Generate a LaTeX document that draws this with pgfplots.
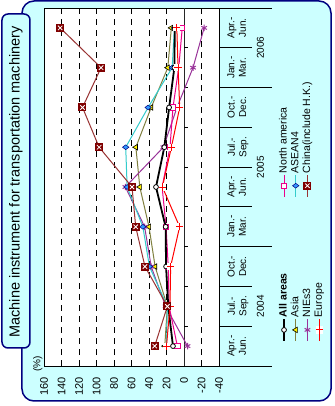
\documentclass[border=0pt]{standalone}
\usepackage{fontspec}
\setmainfont{Liberation Sans}
\usepackage{pgfplots}
\pgfplotsset{compat=1.18}
\definecolor{panel}{RGB}{204,255,255}
\definecolor{navy}{RGB}{0,0,128}
\definecolor{asiaL}{RGB}{128,128,64}
\definecolor{niesC}{RGB}{153,51,153}
\definecolor{aseanL}{RGB}{51,204,204}
\definecolor{aseanM}{RGB}{51,153,255}
\definecolor{chinaL}{RGB}{153,51,51}
\definecolor{chinaM}{RGB}{128,0,0}

\pgfdeclareplotmark{chinabox}{%
  \pgfpathrectangle{\pgfpoint{-\pgfplotmarksize}{-\pgfplotmarksize}}{\pgfpoint{2\pgfplotmarksize}{2\pgfplotmarksize}}%
  \pgfsetfillcolor{chinaM}\pgfusepathqfill
  \pgfsetstrokecolor{white}\pgfsetlinewidth{0.8pt}%
  \pgfpathmoveto{\pgfpoint{-0.55\pgfplotmarksize}{-0.55\pgfplotmarksize}}%
  \pgfpathlineto{\pgfpoint{0.55\pgfplotmarksize}{0.55\pgfplotmarksize}}%
  \pgfpathmoveto{\pgfpoint{-0.55\pgfplotmarksize}{0.55\pgfplotmarksize}}%
  \pgfpathlineto{\pgfpoint{0.55\pgfplotmarksize}{-0.55\pgfplotmarksize}}%
  \pgfusepathqstroke
}
\pgfdeclareplotmark{wplus}{%
  \pgfpathrectangle{\pgfpoint{-\pgfplotmarksize}{-\pgfplotmarksize}}{\pgfpoint{2\pgfplotmarksize}{2\pgfplotmarksize}}%
  \pgfsetfillcolor{white}\pgfusepathqfill
  \pgfsetstrokecolor{red}%
  \pgfpathmoveto{\pgfpoint{-\pgfplotmarksize}{0pt}}\pgfpathlineto{\pgfpoint{\pgfplotmarksize}{0pt}}%
  \pgfpathmoveto{\pgfpoint{0pt}{-\pgfplotmarksize}}\pgfpathlineto{\pgfpoint{0pt}{\pgfplotmarksize}}%
  \pgfusepathqstroke
}

\pgfplotsset{
 allS/.style={black, line width=1.8pt, mark=*, mark size=2.4pt, mark options={fill=white, draw=black, line width=0.8pt, solid}},
 asiaS/.style={color=asiaL, line width=1pt, mark=triangle*, mark size=3.2pt, mark options={fill=yellow, draw=black, line width=0.6pt}},
 niesS/.style={color=niesC, line width=1pt, mark=asterisk, mark size=3.2pt, mark options={rotate=90, line width=1pt}},
 euroS/.style={red, line width=1pt, mark=wplus, mark size=3.6pt, mark options={line width=1pt}},
 naS/.style={magenta, line width=1pt, mark=square*, mark size=2.6pt, mark options={fill=white, draw=magenta, line width=0.8pt}},
 aseanS/.style={color=aseanL, line width=1pt, mark=diamond*, mark size=3.2pt, mark options={fill=aseanM, draw=navy, line width=0.5pt}},
 chinaS/.style={color=chinaL, line width=1pt, mark=chinabox, mark size=4pt},
}

\begin{document}
\begin{tikzpicture}[rotate=90, transform shape]
\path[use as bounding box] (0,0) rectangle (406pt,334pt);
\draw[fill=panel, draw=navy, line width=1.5pt, rounded corners=12pt] (5pt,3pt) rectangle (405pt,312pt);
\draw[fill=panel, draw=navy, line width=1.5pt, rounded corners=6pt] (58pt,304pt) rectangle (392pt,332pt);
\node[font=\fontsize{14.5}{16}\selectfont] at (224pt,318pt) {Machine instrument for transportation machinery};

\begin{axis}[
  at={(40pt,115pt)}, anchor=south west,
  width=358pt, height=175pt, scale only axis,
  xmin=-0.5, xmax=8.5, ymin=-40, ymax=160,
  axis background/.style={fill=white},
  ytick={-40,-20,...,160},
  ymajorgrids, major grid style={black, dash pattern=on 6pt off 5pt, line width=0.6pt},
  xtick={0,...,8},
  xticklabels={{Apr.-\\Jun.},{Jul.-\\Sep.},{Oct.-\\Dec.},{Jan.-\\Mar.},{Apr.-\\Jun.},{Jul.-\\Sep.},{Oct.-\\Dec.},{Jan.-\\Mar.},{Apr.-\\Jun.}},
  xtick style={draw=none}, ytick style={draw=none},
  axis line style={black, line width=0.8pt},
  /pgf/number format/assume math mode=true,
  yticklabel style={font=\fontsize{11}{12}\selectfont, xshift=-8pt},
  xticklabel style={font=\fontsize{10}{11.5}\selectfont, align=center, yshift=-5pt},
  clip=false,
  legend columns=2,
  legend cell align=left,
  legend style={at={(0.067,-0.337)}, anchor=north west, draw=none, fill=none,
    font=\fontsize{10.5}{10.5}\selectfont, inner sep=0pt, row sep=0pt,
    nodes={inner sep=1pt, text height=7.5pt, text depth=2.2pt},
    /tikz/every even column/.append style={column sep=75pt}},
  legend image code/.code={\draw[mark repeat=2,mark phase=2,#1] plot coordinates {(0pt,0pt) (11pt,0pt) (22pt,0pt)};},
]
\draw[black!85, line width=1pt] (axis cs:-0.5,0) -- (axis cs:8.5,0);
\draw[black, line width=0.8pt] (axis cs:0.5,0) -- (axis cs:0.5,-4.6);
\draw[black, line width=0.8pt] (axis cs:1.5,0) -- (axis cs:1.5,-4.6);
\draw[black, line width=0.8pt] (axis cs:2.5,0) -- (axis cs:2.5,-4.6);
\draw[black, line width=0.8pt] (axis cs:3.5,0) -- (axis cs:3.5,-4.6);
\draw[black, line width=0.8pt] (axis cs:4.5,0) -- (axis cs:4.5,-4.6);
\draw[black, line width=0.8pt] (axis cs:5.5,0) -- (axis cs:5.5,-4.6);
\draw[black, line width=0.8pt] (axis cs:6.5,0) -- (axis cs:6.5,-4.6);
\draw[black, line width=0.8pt] (axis cs:7.5,0) -- (axis cs:7.5,-4.6);

\addlegendimage{allS}\addlegendentry{\textbf{All areas}}
\addlegendimage{naS}\addlegendentry{North america}
\addlegendimage{asiaS}\addlegendentry{Asia}
\addlegendimage{aseanS}\addlegendentry{ASEAN4}
\addlegendimage{niesS}\addlegendentry{NIEs3}
\addlegendimage{chinaS}\addlegendentry{China(include H.K.)}
\addlegendimage{euroS}\addlegendentry{Europe}

% Asia
\addplot[asiaS, forget plot] coordinates {(0,22) (1,19) (2,33) (3,40) (4,50.5) (5,55) (6,37.5) (7,18.5) (8,14.5)};
% NIEs3
\addplot[niesS, forget plot] coordinates {(0,-4) (1,21) (2,37.5) (3,45) (4,67) (5,23.5) (6,8) (7,-10.3) (8,-23)};
% ASEAN4
\addplot[aseanS, forget plot] coordinates {(0,20) (1,19) (2,39.5) (3,47) (4,65) (5,66.6) (6,41) (7,13.5) (8,11)};
% North america
\addplot[naS, forget plot] coordinates {(0,7.6) (1,17) (2,18) (3,20.5) (4,25) (5,16) (6,12.6) (7,6) (8,2)};
% All areas
\addplot[allS, forget plot] coordinates {(0,12.6) (1,18) (2,20.5) (3,21) (4,32) (5,22.5) (6,17) (7,11) (8,10.5)};
% Europe
\addplot[euroS, forget plot] coordinates {(0,20) (1,16) (2,15.3) (3,5) (4,24.7) (5,14.4) (6,4.9) (7,6.8) (8,8.2)};
% China (include H.K.)
\addplot[chinaS, forget plot] coordinates {(0,33.5) (1,19) (2,44.6) (3,55.2) (4,59.4) (5,97) (6,116) (7,94.8) (8,141.5)};

% category table lines
\draw[black, line width=0.8pt] (axis cs:-0.5,-40) -- (axis cs:-0.5,-100.6);
\draw[black, line width=0.8pt] (axis cs:2.5,-40) -- (axis cs:2.5,-100.6);
\draw[black, line width=0.8pt] (axis cs:6.5,-40) -- (axis cs:6.5,-100.6);
\draw[black, line width=0.8pt] (axis cs:8.5,-40) -- (axis cs:8.5,-100.6);
\draw[black, line width=0.8pt] (axis cs:0.5,-40) -- (axis cs:0.5,-77.7);
\draw[black, line width=0.8pt] (axis cs:1.5,-40) -- (axis cs:1.5,-77.7);
\draw[black, line width=0.8pt] (axis cs:3.5,-40) -- (axis cs:3.5,-77.7);
\draw[black, line width=0.8pt] (axis cs:4.5,-40) -- (axis cs:4.5,-77.7);
\draw[black, line width=0.8pt] (axis cs:5.5,-40) -- (axis cs:5.5,-77.7);
\draw[black, line width=0.8pt] (axis cs:7.5,-40) -- (axis cs:7.5,-77.7);
\node[font=\fontsize{10}{11}\selectfont] at (axis cs:1,-87.4) {2004};
\node[font=\fontsize{10}{11}\selectfont] at (axis cs:4.5,-87.4) {2005};
\node[font=\fontsize{10}{11}\selectfont] at (axis cs:7.5,-87.4) {2006};
\node[font=\fontsize{10}{11}\selectfont] at (axis cs:-0.45,167) {(\%)};
\end{axis}
\end{tikzpicture}
\end{document}
